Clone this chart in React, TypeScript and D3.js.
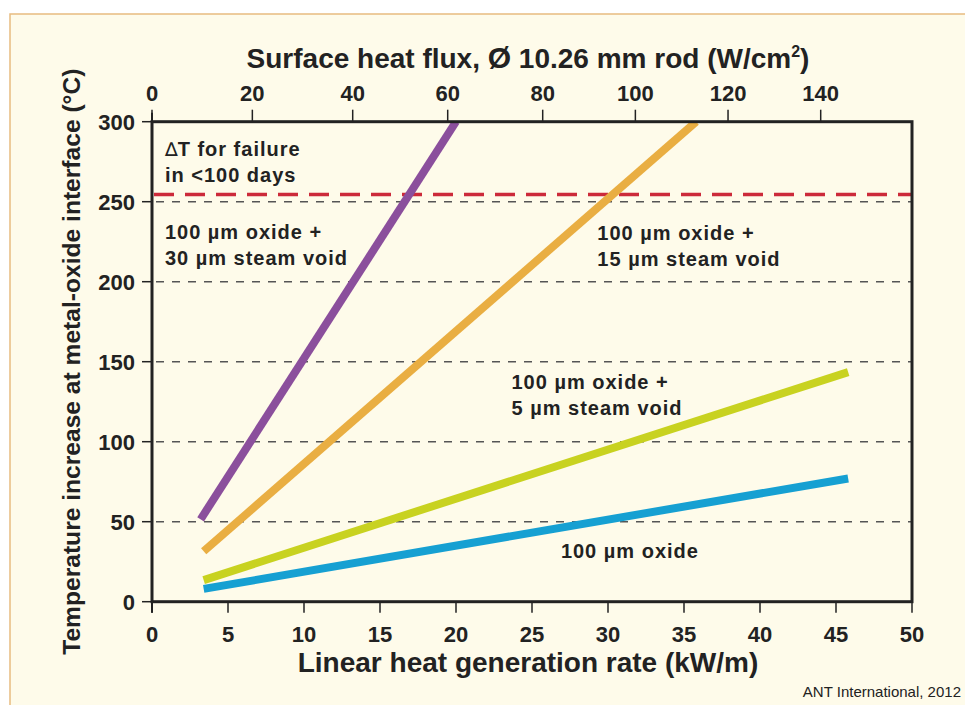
import React from "react";
import * as d3 from "d3";

const xTicks = [0, 5, 10, 15, 20, 25, 30, 35, 40, 45, 50];
const yTicks = [0, 50, 100, 150, 200, 250, 300];
const topTicks = [0, 20, 40, 60, 80, 100, 120, 140];
const gridValues = [50, 100, 150, 200, 250];
const failureDT = 254.5;

const seriesNames = ["30 µm void", "15 µm void", "5 µm void", "oxide only"];
const seriesColors = ["#8b4f9c", "#e9ae42", "#c8d220", "#16a0d2"];
const seriesX = [
  [3.2, 20.0],
  [3.4, 35.8],
  [3.4, 45.8],
  [3.4, 45.8],
];
const seriesY = [
  [51.5, 300],
  [31.5, 300],
  [13.5, 143.5],
  [8.0, 77.0],
];

const labels = [
  { lines: ["T for failure", "in <100 days"], x: 0.85, y: 278.5, delta: true },
  { lines: ["100 µm oxide +", "30 µm steam void"], x: 0.85, y: 226.5 },
  { lines: ["100 µm oxide +", "15 µm steam void"], x: 29.3, y: 226 },
  { lines: ["100 µm oxide +", "5 µm steam void"], x: 23.65, y: 133 },
  { lines: ["100 µm oxide"], x: 26.9, y: 27.5 },
];

const W = 965;
const H = 705;
const FONT = "'Liberation Sans', Arial, Helvetica, sans-serif";
const INK = "#222";

export default function App() {
  const x = d3.scaleLinear().domain([0, 50]).range([152, 912]);
  const y = d3.scaleLinear().domain([0, 300]).range([601.7, 121.7]);
  const xTop = d3
    .scaleLinear()
    .domain([0, 40, 80, 140])
    .range([152, 352.7, 542.7, 820.7]);

  const line = d3
    .line<[number, number]>()
    .x((d) => x(d[0]))
    .y((d) => y(d[1]));

  return (
    <svg
      width={W}
      height={H}
      style={{ position: "absolute", left: 0, top: 0 }}
      fontFamily={FONT}
    >
      <rect x={0} y={0} width={W} height={H} fill="#ffffff" />
      <rect x={10} y={14} width={W} height={H} fill="#fefbea" stroke="#e8bc80" strokeWidth={1.5} />

      <defs>
        <clipPath id="plotclip">
          <rect x={x(0)} y={y(300)} width={x(50) - x(0)} height={y(0) - y(300)} />
        </clipPath>
      </defs>

      {/* grid */}
      {gridValues.map((g) => (
        <line
          key={g}
          x1={x(0) + 4}
          x2={x(50)}
          y1={y(g)}
          y2={y(g)}
          stroke="#555"
          strokeWidth={1.5}
          strokeDasharray="8,8"
        />
      ))}
      <line
        x1={x(0) + 2}
        x2={x(50)}
        y1={y(failureDT)}
        y2={y(failureDT)}
        stroke="#cc2a3a"
        strokeWidth={3.5}
        strokeDasharray="20,11"
      />

      {/* series */}
      <g clipPath="url(#plotclip)">
        {seriesNames.map((n, i) => (
          <path
            key={n}
            d={line(seriesX[i].map((v, j) => [v, seriesY[i][j]]) as [number, number][]) || ""}
            fill="none"
            stroke={seriesColors[i]}
            strokeWidth={8}
          />
        ))}
      </g>

      {/* frame */}
      <rect
        x={x(0)}
        y={y(300)}
        width={x(50) - x(0)}
        height={y(0) - y(300)}
        fill="none"
        stroke={INK}
        strokeWidth={3}
      />
      <line x1={x(0)} x2={x(0)} y1={y(300) - 9} y2={y(0) + 11} stroke={INK} strokeWidth={2} />

      {/* y ticks */}
      {yTicks.map((t) => (
        <g key={t}>
          <line x1={x(0) - 10} x2={x(0)} y1={y(t)} y2={y(t)} stroke={INK} strokeWidth={1.5} />
          <text
            x={x(0) - 17}
            y={y(t) + 8}
            textAnchor="end"
            fontSize={22}
            fontWeight="bold"
            fill={INK}
          >
            {t}
          </text>
        </g>
      ))}

      {/* bottom ticks */}
      {xTicks.map((t) => (
        <g key={t}>
          <line x1={x(t)} x2={x(t)} y1={y(0)} y2={y(0) + 11} stroke={INK} strokeWidth={1.5} />
          <text
            x={x(t)}
            y={641.5}
            textAnchor="middle"
            fontSize={22}
            fontWeight="bold"
            fill={INK}
          >
            {t}
          </text>
        </g>
      ))}

      {/* top ticks */}
      {topTicks.map((t) => (
        <g key={t}>
          <line x1={xTop(t)} x2={xTop(t)} y1={y(300)} y2={y(300) - 12} stroke={INK} strokeWidth={1.5} />
          <text
            x={xTop(t)}
            y={100.5}
            textAnchor="middle"
            fontSize={22}
            fontWeight="bold"
            fill={INK}
          >
            {t}
          </text>
        </g>
      ))}

      {/* titles */}
      <text x={528} y={68} textAnchor="middle" fontSize={28} fontWeight="bold" fill={INK}>
        Surface heat flux, <tspan fontSize={30}>Ø</tspan> 10.26 mm rod (W/cm
        <tspan fontSize={16} dy={-11}>2</tspan>
        <tspan dy={11}>)</tspan>
      </text>
      <text x={528} y={672} textAnchor="middle" fontSize={28} fontWeight="bold" fill={INK}>
        Linear heat generation rate (kW/m)
      </text>
      <text
        transform={`translate(80,${(y(0) + y(300)) / 2}) rotate(-90)`}
        textAnchor="middle"
        fontSize={24.6}
        fontWeight="bold"
        fill={INK}
      >
        Temperature increase at metal-oxide interface (°C)
      </text>

      {/* annotations */}
      {labels.map((l, i) => (
        <text
          key={i}
          x={x(l.x)}
          y={y(l.y)}
          fontSize={20}
          fontWeight="bold"
          letterSpacing={1}
          fill={INK}
        >
          {l.lines.map((s, j) => (
            <tspan key={j} x={x(l.x)} dy={j === 0 ? 0 : 26}>
              {l.delta && j === 0 ? (
                <tspan fontWeight="normal" fontFamily="'DejaVu Sans', sans-serif" fontSize={19} letterSpacing={0}>
                  {"\u2206"}
                </tspan>
              ) : null}
              {s}
            </tspan>
          ))}
        </text>
      ))}

      <text x={961} y={697} textAnchor="end" fontSize={15} fill="#222">
        ANT International, 2012
      </text>
    </svg>
  );
}
